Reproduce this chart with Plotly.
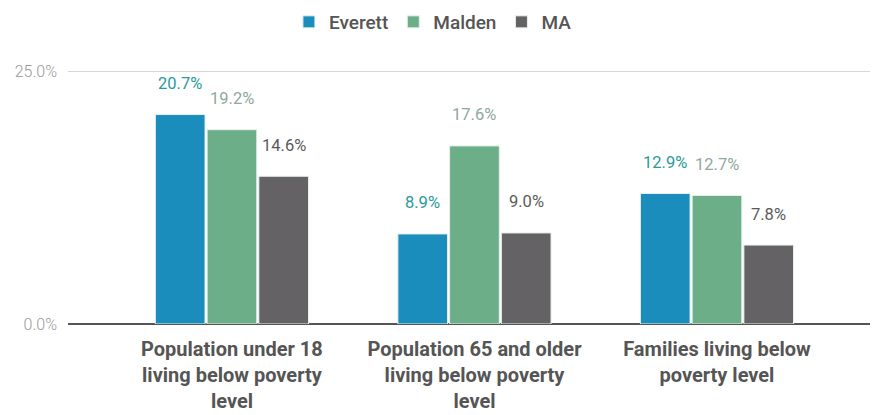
import plotly.graph_objects as go

categories = [
    "Population under 18<br>living below poverty<br>level",
    "Population 65 and older<br>living below poverty<br>level",
    "Families living below<br>poverty level",
]
everett = [20.7, 8.9, 12.9]
malden = [19.2, 17.6, 12.7]
ma = [14.6, 9.0, 7.8]

series = [
    ("Everett", everett, "#1a8dbd", "#2a9a9a"),
    ("Malden", malden, "#6bae87", "#8fa89c"),
    ("MA", ma, "#646264", "#5a5a5a"),
]

fig = go.Figure()
for name, vals, color, label_color in series:
    fig.add_trace(go.Bar(
        x=categories, y=vals, name=name,
        marker=dict(color=color, line=dict(color="#e6f0ec", width=1)),
        hoverinfo="skip",
    ))

# value labels sit well above each bar
bar_px = 52
for i, (name, vals, color, label_color) in enumerate(series):
    for cat, v in zip(categories, vals):
        fig.add_annotation(
            x=cat, y=v, text=f"{v:.1f}%", showarrow=False,
            xshift=(i - 1) * bar_px, yshift=31, yanchor="middle",
            font=dict(family="Roboto", size=16.5, color=label_color),
        )

fig.update_layout(
    width=890, height=415,
    margin=dict(l=68, r=20, t=68, b=91, autoexpand=False),
    paper_bgcolor="white", plot_bgcolor="white",
    barmode="group", bargap=0.36, bargroupgap=0.04,
    font=dict(family="Roboto", color="#555555"),
    showlegend=True,
    legend=dict(
        orientation="h", x=0.455, xanchor="center",
        yref="container", y=0.947, yanchor="middle",
        font=dict(family="Roboto", size=19, color="#555555", weight=500),
        itemwidth=30, traceorder="normal",
    ),
    xaxis=dict(
        range=[-0.676, 2.631], showgrid=False, showline=False,
        tickfont=dict(family="Roboto", size=20, color="#555555", weight="bold"),
        ticks="", automargin=False, ticklabelstandoff=11,
    ),
    yaxis=dict(
        range=[0, 25.3], tickvals=[0, 25], ticktext=["0.0%", "25.0%"],
        showgrid=True, gridcolor="#d6d6d6", gridwidth=1,
        zeroline=True, zerolinecolor="#555555", zerolinewidth=1.5,
        tickfont=dict(family="Roboto", size=16, color="#999999", weight=300),
        ticks="", automargin=False, ticklabelstandoff=10,
    ),
)

fig.write_html("out.html", config={"displayModeBar": False},
               post_script="document.body.style.margin='0';")
